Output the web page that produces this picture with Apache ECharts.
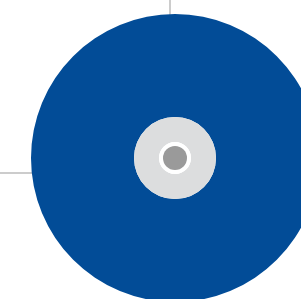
<!DOCTYPE html>
<html lang="en">
<head>
    <meta charset="UTF-8">
    <title>disc</title>
</head>
<body style="margin:0">
<div id="chart" style="width: 301px;height: 299px"></div>
<script src="https://cdn.jsdelivr.net/npm/echarts@6/dist/echarts.min.js"></script>
<script>
    // rings of the disc, outside in
    const ringNames = ['disc', 'hub', 'hole', 'spindle']
    const ringValues = [1, 1, 1, 1]
    const ringColors = ['#024c97', '#dcddde', '#ffffff', '#9a9a9a']
    const ringRadius = [[41, 144], [16, 41], [12, 16], [0, 12]]
    // guide lines behind the disc
    const vLine = [[170, 0], [170, 20]]
    const hLine = [[0, 173], [40, 173]]

    const dom = document.getElementById('chart')
    const chart = echarts.init(dom)

    const pies = ringNames.map((name, i) => ({
        type: 'pie',
        center: [175, 158],
        radius: ringRadius[i],
        silent: true,
        z: 3,
        label: {show: false},
        labelLine: {show: false},
        itemStyle: {color: ringColors[i], borderWidth: 0},
        data: [{name: name, value: ringValues[i]}]
    }))

    chart.setOption({
        animation: false,
        grid: {left: 0, right: 0, top: 0, bottom: 0},
        xAxis: {type: 'value', min: 0, max: 301, show: false},
        yAxis: {type: 'value', min: 0, max: 299, inverse: true, show: false},
        series: [
            {
                type: 'line',
                data: vLine,
                symbol: 'none',
                z: 1,
                lineStyle: {color: '#cccccc', width: 2}
            },
            {
                type: 'line',
                data: hLine,
                symbol: 'none',
                z: 1,
                lineStyle: {color: '#cccccc', width: 2}
            },
            ...pies
        ]
    })
    window.addEventListener('resize', () => {
        chart.resize()
    })
</script>
</body>
</html>
